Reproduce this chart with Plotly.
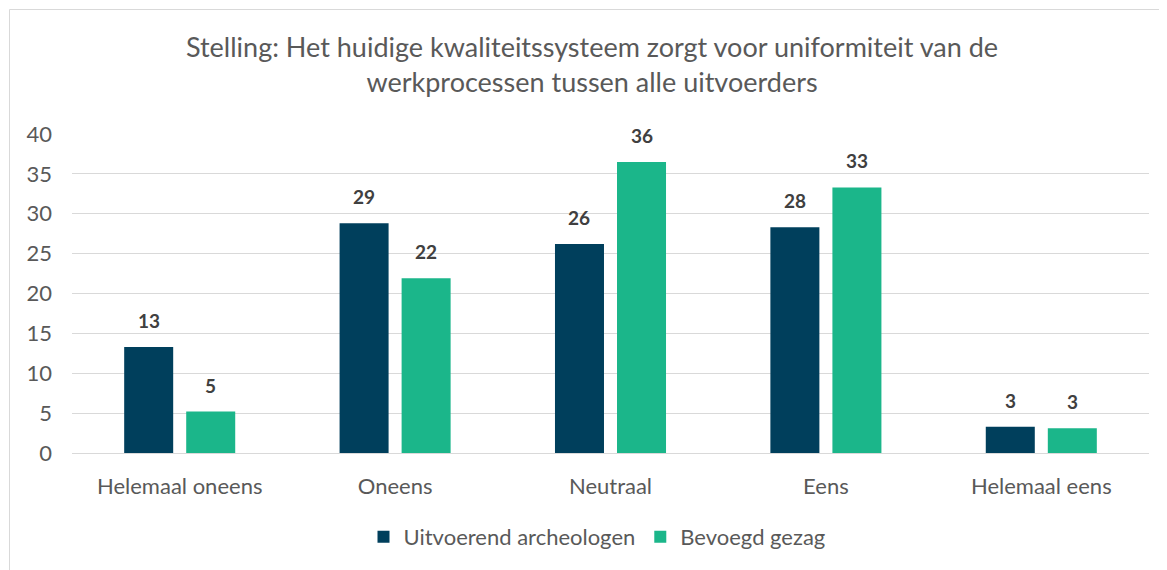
import plotly.graph_objects as go

categories = ["Helemaal oneens", "Oneens", "Neutraal", "Eens", "Helemaal eens"]
series_names = ["Uitvoerend archeologen", "Bevoegd gezag"]
uitvoerend = [13.3, 28.8, 26.2, 28.3, 3.3]
bevoegd = [5.2, 21.9, 36.5, 33.3, 3.1]
y_ticks = [0, 5, 10, 15, 20, 25, 30, 35, 40]
colors = ["#003F5C", "#1BB68A"]

FONT = "Lato, 'Open Sans', sans-serif"

OFF = 8  # default page body margin
W, H = 1167 - OFF, 570 - OFF
ml, mr, mt, mb = 72 - OFF, 18, 134 - OFF, 117
pw, ph = W - ml - mr, H - mt - mb
BARGAP = 0.424
cat_px = pw / len(categories)
slot_px = cat_px * (1 - BARGAP) / 2

fig = go.Figure()
annotations = []
for i, (name, vals, col) in enumerate(zip(series_names, [uitvoerend, bevoegd], colors)):
    fig.add_trace(go.Bar(
        x=categories, y=vals, name=name,
        marker=dict(color=col, line=dict(width=0)),
    ))
    shift = (i - 0.5) * slot_px
    for c, v in zip(categories, vals):
        annotations.append(dict(
            x=c, y=v, xref="x", yref="y", text=f"<b>{round(v):d}</b>",
            showarrow=False, xanchor="center", yanchor="bottom",
            xshift=shift, yshift=13,
            font=dict(family=FONT, size=19, color="#404040"),
        ))

def px2paper_x(px):  # page pixel -> paper
    return (px - OFF - ml) / pw

def px2paper_y(py):
    return (H - mb - (py - OFF)) / ph

fig.update_layout(
    width=W, height=H,
    margin=dict(l=ml, r=mr, t=mt, b=mb, autoexpand=False),
    paper_bgcolor="white", plot_bgcolor="white",
    barmode="group", bargap=BARGAP, bargroupgap=0.21,
    title=dict(
        text="Stelling: Het huidige kwaliteitssysteem zorgt voor uniformiteit van de<br>werkprocessen tussen alle uitvoerders",
        x=(592 - OFF) / W, xanchor="center", xref="container", y=1 - 49 / H, yanchor="top", yref="container",
        font=dict(family=FONT, size=27, color="#595959"),
    ),
    font=dict(family=FONT, size=22, color="#595959"),
    xaxis=dict(
        showgrid=False, showline=True, linecolor="#D9D9D9", linewidth=1,
        ticks="", tickfont=dict(size=22, color="#595959"), automargin=False,
        ticklabelstandoff=14,
    ),
    yaxis=dict(
        range=[0, 40], tickvals=y_ticks, showgrid=True, gridcolor="#D9D9D9",
        gridwidth=1, zeroline=False, showline=False, ticks="",
        tickfont=dict(size=22, color="#595959"), ticklabelstandoff=19, automargin=False,
    ),
    legend=dict(
        orientation="h", x=px2paper_x(597), xanchor="center", y=px2paper_y(537), yanchor="middle",
        font=dict(size=22, color="#595959"),
    ),
    showlegend=True,
    annotations=annotations,
    shapes=[dict(
        type="rect", xref="paper", yref="paper",
        x0=px2paper_x(9.5), x1=px2paper_x(1200), y0=px2paper_y(600), y1=px2paper_y(9.5),
        line=dict(color="#D9D9D9", width=1), fillcolor="rgba(0,0,0,0)", layer="below",
    )],
)

fig.write_html("out.html")
